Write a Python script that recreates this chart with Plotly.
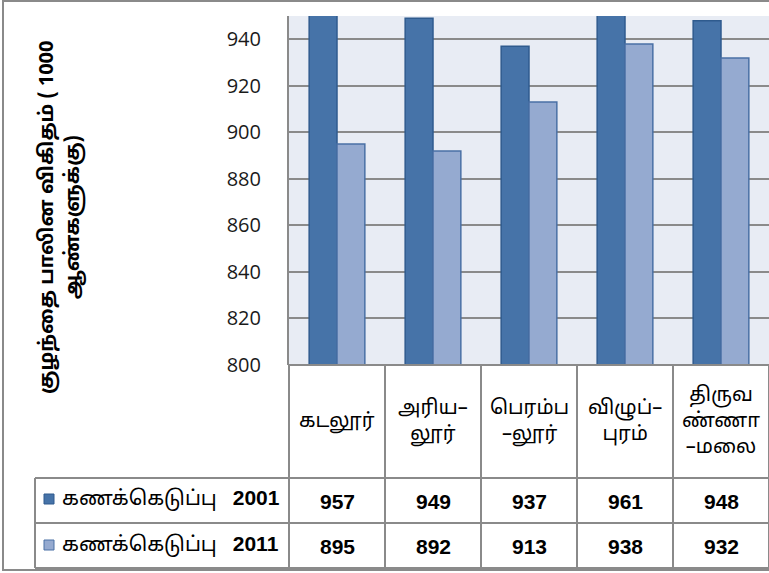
import plotly.graph_objects as go

categories = ["கடலூர்", "அரிய–<br>லூர்", "பெரம்ப<br>–லூர்", "விழுப்–<br>புரம்", "திருவ<br>ண்ணா<br>–மலை"]
series_labels = ["கணக்கெடுப்பு", "கணக்கெடுப்பு"]
series_years = ["2001", "2011"]
census_2001 = [957, 949, 937, 961, 948]
census_2011 = [895, 892, 913, 938, 932]
y_ticks = [800, 820, 840, 860, 880, 900, 920, 940]
y_title = "<b>குழந்தை பாலின விகிதம் ( 1000<br>ஆண்களுக்கு)</b>"

W, H = 769, 573
def px(x):
    return x / W
def py(y):
    return 1 - y / H

TAMIL = "Noto Sans Tamil, Noto Sans"
LATIN = "Liberation Sans, Arial"
colors = ["#4673A8", "#95AAD0"]
edges = ["#2F5B8E", "#4A70A5"]
series = [census_2001, census_2011]

fig = go.Figure()
for name, vals, c, e in zip(series_years, series, colors, edges):
    fig.add_trace(go.Bar(x=list(range(len(categories))), y=vals, name=name,
                         marker=dict(color=c, line=dict(color=e, width=1.5)),
                         showlegend=False, hoverinfo="skip"))

PLOT_L, PLOT_T, PLOT_B = 289, 16, 365
fig.update_layout(
    width=W, height=586, autosize=False,
    margin=dict(l=0, r=0, t=0, b=0),
    paper_bgcolor="white",
    plot_bgcolor="#E8ECF4",
    barmode="group", bargap=0.42, bargroupgap=0,
    xaxis=dict(domain=[px(PLOT_L), 1], range=[-0.5, len(categories) - 0.5],
               showticklabels=False, showgrid=False, zeroline=False, ticks=""),
    yaxis=dict(domain=[py(PLOT_B), py(PLOT_T)], range=[800, 950],
               tickvals=y_ticks, showgrid=True, gridcolor="#8A8A8A", gridwidth=2,
               zeroline=False, showline=True, linecolor="#8A8A8A", linewidth=2,
               ticks="", ticklabelstandoff=22,
               tickfont=dict(family="Open Sans", size=20, color="#1a1a1a")),
    font=dict(family=TAMIL, color="black"),
)

shapes = []
line = dict(color="#8A8A8A", width=2)
shapes.append(dict(type="rect", xref="paper", yref="paper", x0=px(3), x1=px(770), y0=py(1), y1=py(570),
                   line=dict(color="#8A8A8A", width=2)))
row_y = [365, 478, 523, 568]
for i, y in enumerate(row_y):
    x0 = PLOT_L if i == 0 else 35
    shapes.append(dict(type="line", xref="paper", yref="paper", x0=px(x0), x1=px(W), y0=py(y), y1=py(y), line=line))
col_w = (W - PLOT_L) / len(categories)
for k in range(len(categories) + 1):
    x = PLOT_L + k * col_w
    shapes.append(dict(type="line", xref="paper", yref="paper", x0=px(x), x1=px(x), y0=py(365), y1=py(568), line=line))
shapes.append(dict(type="line", xref="paper", yref="paper", x0=px(35), x1=px(35), y0=py(478), y1=py(568), line=line))

annotations = []
for k, cat in enumerate(categories):
    cx = PLOT_L + (k + 0.5) * col_w
    annotations.append(dict(x=px(cx), y=py(422), xref="paper", yref="paper", text=cat, showarrow=False,
                            font=dict(family=TAMIL, size=20, color="black"), xanchor="center", yanchor="middle"))
    for r, vals in enumerate(series):
        annotations.append(dict(x=px(cx), y=py([501, 546][r]), xref="paper", yref="paper",
                                text=f"<b>{vals[k]}</b>", showarrow=False,
                                font=dict(family=LATIN, size=21, color="black"),
                                xanchor="center", yanchor="middle"))
for r in range(len(series)):
    yc = [499, 545][r]
    shapes.append(dict(type="rect", xref="paper", yref="paper", x0=px(44), x1=px(54), y0=py(yc - 5), y1=py(yc + 5),
                       fillcolor=colors[r], line=dict(color=edges[r], width=1)))
    annotations.append(dict(x=px(60), y=py(yc), xref="paper", yref="paper",
                            text=f"{series_labels[r]}&nbsp;&nbsp;&nbsp;<span style='font-family:Liberation Sans;font-size:21px'><b>{series_years[r]}</b></span>",
                            showarrow=False, font=dict(family=TAMIL, size=20.5, color="black"),
                            xanchor="left", yanchor="middle"))

annotations.append(dict(x=px(61), y=py(218), xref="paper", yref="paper", text=y_title, showarrow=False,
                        textangle=-90, font=dict(family=TAMIL, size=20, color="black"),
                        xanchor="center", yanchor="middle"))

fig.update_layout(shapes=shapes, annotations=annotations)
fig.write_html("out.html", config={"displayModeBar": False, "responsive": False},
               post_script="document.body.style.margin='0';")
